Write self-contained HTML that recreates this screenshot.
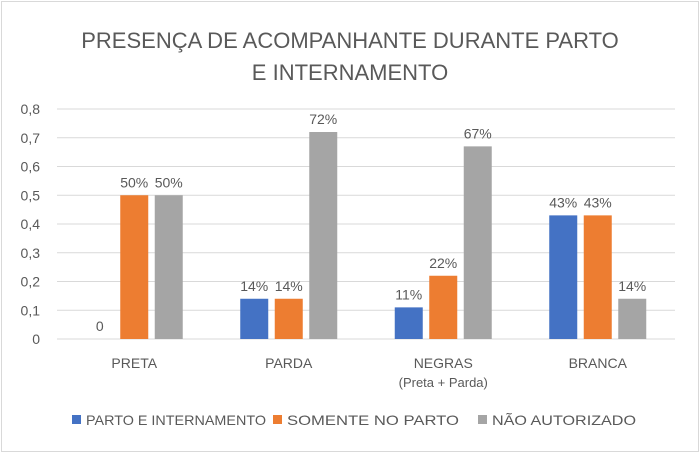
<!DOCTYPE html>
<html><head><meta charset="utf-8"><style>
body{margin:0;background:#fff;font-family:"Liberation Sans",sans-serif;}
svg text{font-family:"Liberation Sans",sans-serif;fill:#595959;}
</style></head><body>
<svg id="c" width="700" height="453">
<rect x="1.5" y="1.5" width="697" height="450" fill="#fff" stroke="#d9d9d9"/>
<text x="350" y="48" text-anchor="middle" font-size="22">PRESENÇA DE ACOMPANHANTE DURANTE PARTO</text>
<text x="350" y="80" text-anchor="middle" font-size="22">E INTERNAMENTO</text>
<g id="plot"></g>
</svg>
<script>
const categories=["PRETA","PARDA","NEGRAS","BRANCA"];
const seriesNames=["PARTO E INTERNAMENTO","SOMENTE NO PARTO","NÃO AUTORIZADO"];
const partoInternamento=[0,0.14,0.11,0.43];
const somenteParto=[0.5,0.14,0.22,0.43];
const naoAutorizado=[0.5,0.72,0.67,0.14];
const labelsA=["0","14%","11%","43%"];
const labelsB=["50%","14%","22%","43%"];
const labelsC=["50%","72%","67%","14%"];
const yTicks=[0,0.1,0.2,0.3,0.4,0.5,0.6,0.7,0.8];
const yTickLabels=["0","0,1","0,2","0,3","0,4","0,5","0,6","0,7","0,8"];
const colors=["#4472c4","#ed7d31","#a5a5a5"];
const NS="http://www.w3.org/2000/svg";
const g=document.getElementById('plot');
const x0=57,x1=675,yZero=339,yTop=109,yMax=0.8;
const y=v=>yZero-(v/yMax)*(yZero-yTop);
const gw=(x1-x0)/categories.length;
const cx=i=>x0+gw*(i+0.5);
function mk(t,a){const e=document.createElementNS(NS,t);for(const k in a)e.setAttribute(k,a[k]);g.appendChild(e);return e;}
yTicks.forEach((v,i)=>{
 const l=mk('line',{x1:x0,x2:x1,y1:y(v),y2:y(v),stroke:'#d9d9d9','stroke-width':1});
 
 
 const t=mk('text',{x:40,y:y(v)+5,'text-anchor':'end','font-size':14});
 t.textContent=yTickLabels[i];
 
 
});
const series=[partoInternamento,somenteParto,naoAutorizado];
const labels=[labelsA,labelsB,labelsC];
const bw=28,step=34.5;
categories.forEach((c,i)=>{
 series.forEach((s,j)=>{
  const bx=cx(i)+(j-1)*step-bw/2;
  const r=mk('rect',{x:bx,y:y(s[i]),width:bw,height:yZero-y(s[i]),fill:colors[j]});
  
  
  const t=mk('text',{x:bx+bw/2,y:y(s[i])-8,'text-anchor':'middle','font-size':14});
  t.textContent=labels[j][i];
  
  
 });
 const t=mk('text',{x:cx(i),y:368,'text-anchor':'middle','font-size':14});
 t.textContent=c;
 
 
});
const sub=mk('text',{x:cx(2),y:387,'text-anchor':'middle','font-size':13});
sub.textContent="(Preta + Parda)";


const lx=[72,273,478];
const lw=[180,172,144];
seriesNames.forEach((n,j)=>{
 const r=mk('rect',{x:lx[j],y:415,width:9,height:9,fill:colors[j]});
 
 
 const t=mk('text',{x:lx[j]+14,y:425,'font-size':14,textLength:lw[j],lengthAdjust:'spacingAndGlyphs'});
 t.textContent=n;
 
 
});
</script>
</body></html>
